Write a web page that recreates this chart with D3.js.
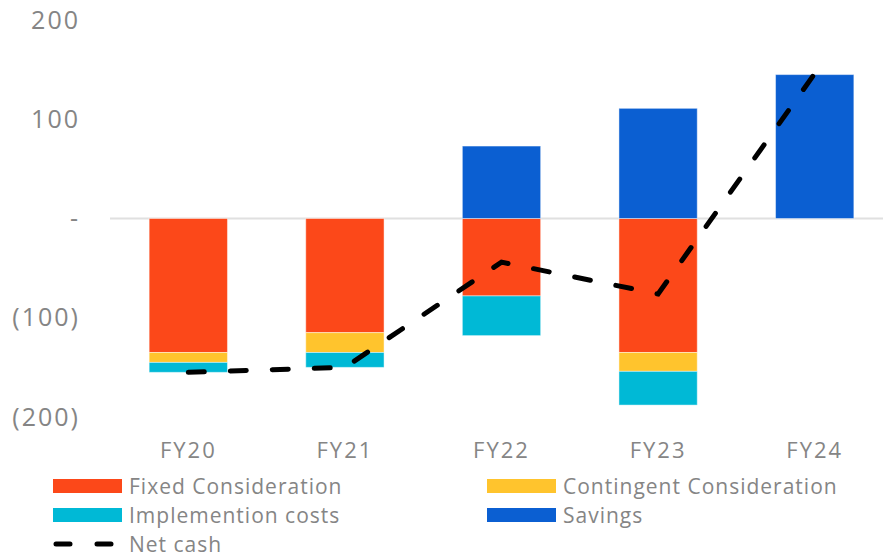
<!DOCTYPE html>
<html>
<head>
<meta charset="utf-8">
<script src="https://cdn.jsdelivr.net/npm/d3@7"></script>
<style>
    body { margin: 0; background: #fff; }
    svg { display: block; font-family: "Open Sans", sans-serif; }
</style>
</head>
<body>
<div id="chart"></div>
<script>
const categories = ["FY20", "FY21", "FY22", "FY23", "FY24"];
const fixedConsideration = [-135, -115, -78, -135, 0];
const contingentConsideration = [-10, -20, 0, -19, 0];
const implementationCosts = [-10, -15, -40, -34, 0];
const savings = [0, 0, 73, 111, 145];
const netCash = [-155, -150, -44, -76, 146];
const yTicks = [-200, -100, 0, 100, 200];

const seriesNames = ["Fixed Consideration", "Contingent Consideration", "Implemention costs", "Savings"];
const seriesColors = ["#fc4819", "#ffc42d", "#00b9d6", "#0b5fd2"];

const width = 883, height = 552;
const textGrey = "#858585";

const svg = d3.select("#chart")
    .append("svg")
    .attr("width", width)
    .attr("height", height);

const x = d3.scaleBand()
    .domain(categories)
    .range([110, 893])
    .paddingInner(0.5)
    .paddingOuter(0.25);

const y = d3.scaleLinear()
    .domain([-200, 200])
    .range([417, 20]);

// Build rows for the stack
const rows = categories.map((c, i) => ({
    cat: c,
    "Fixed Consideration": fixedConsideration[i],
    "Contingent Consideration": contingentConsideration[i],
    "Implemention costs": implementationCosts[i],
    "Savings": savings[i]
}));

const stacked = d3.stack()
    .keys(seriesNames)
    .offset(d3.stackOffsetDiverging)(rows);

// Y axis
svg.append("g")
    .attr("transform", "translate(110,0)")
    .call(d3.axisLeft(y)
        .tickValues(yTicks)
        .tickSize(0)
        .tickPadding(30)
        .tickFormat(d => d === 0 ? "-" : d < 0 ? `(${-d})` : d))
    .call(g => g.select(".domain").remove())
    .call(g => g.selectAll("text")
        .attr("fill", textGrey)
        .attr("font-size", 25)
        .attr("letter-spacing", 2)
        .attr("font-family", "Open Sans, sans-serif"));

// Zero line
svg.append("line")
    .attr("x1", 110)
    .attr("x2", 883)
    .attr("y1", y(0))
    .attr("y2", y(0))
    .attr("stroke", "#e0e0e0")
    .attr("stroke-width", 2);

// Bars
svg.append("g")
    .selectAll("g")
    .data(stacked)
    .join("g")
    .attr("fill", (d, i) => seriesColors[i])
    .selectAll("rect")
    .data(d => d.filter(p => p[1] - p[0] !== 0))
    .join("rect")
    .attr("x", d => x(d.data.cat))
    .attr("width", x.bandwidth())
    .attr("y", d => y(Math.max(d[0], d[1])))
    .attr("height", d => Math.abs(y(d[0]) - y(d[1])))
    .attr("stroke", "rgba(255,255,255,0.45)")
    .attr("stroke-width", 1);

// Net cash line
const line = d3.line()
    .x((d, i) => x(categories[i]) + x.bandwidth() / 2)
    .y(d => y(d));

svg.append("path")
    .datum(netCash)
    .attr("d", line)
    .attr("fill", "none")
    .attr("stroke", "#000")
    .attr("stroke-width", 5)
    .attr("stroke-linecap", "round")
    .attr("stroke-dasharray", "16 26");

// X axis
svg.append("g")
    .attr("transform", "translate(0,436)")
    .call(d3.axisBottom(x).tickSize(0).tickPadding(6))
    .call(g => g.select(".domain").remove())
    .call(g => g.selectAll("text")
        .attr("fill", textGrey)
        .attr("font-size", 22)
        .attr("letter-spacing", 2)
        .attr("font-family", "Open Sans, sans-serif"));

// Legend
const legendItems = [
    { name: seriesNames[0], color: seriesColors[0], col: 0, row: 0 },
    { name: seriesNames[1], color: seriesColors[1], col: 1, row: 0 },
    { name: seriesNames[2], color: seriesColors[2], col: 0, row: 1 },
    { name: seriesNames[3], color: seriesColors[3], col: 1, row: 1 },
    { name: "Net cash", color: "#000", col: 0, row: 2, dashed: true }
];
const legendCols = [53, 487];
const legendTop = 486;
const legendRowH = 29;

const legend = svg.append("g");
legendItems.forEach(item => {
    const lx = legendCols[item.col];
    const ly = legendTop + item.row * legendRowH;
    if (item.dashed) {
        legend.append("line")
            .attr("x1", lx + 3)
            .attr("x2", lx + 66)
            .attr("y1", ly)
            .attr("y2", ly)
            .attr("stroke", "#000")
            .attr("stroke-width", 5)
            .attr("stroke-linecap", "round")
            .attr("stroke-dasharray", "14 27");
    } else {
        legend.append("rect")
            .attr("x", lx)
            .attr("y", ly - 7)
            .attr("width", 69)
            .attr("height", 14)
            .attr("fill", item.color);
    }
    legend.append("text")
        .attr("x", lx + 76)
        .attr("y", ly)
        .attr("dominant-baseline", "central")
        .attr("font-size", 21)
        .attr("letter-spacing", 1)
        .attr("fill", textGrey)
        .text(item.name);
});
</script>
</body>
</html>
